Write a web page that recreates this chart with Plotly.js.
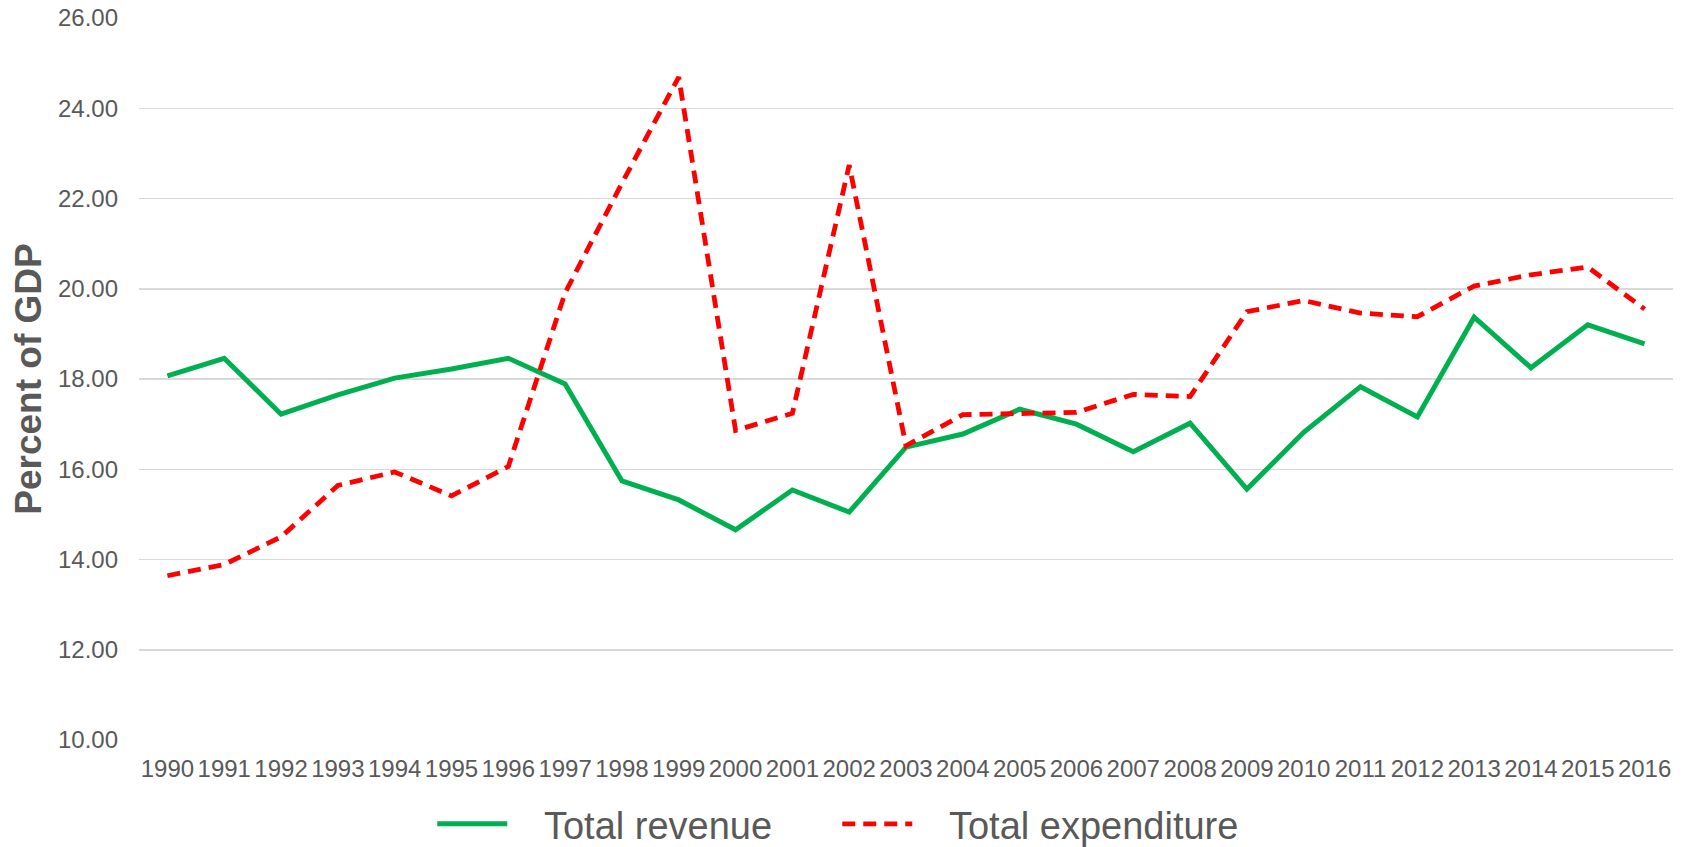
<!DOCTYPE html>
<html>
<head>
<meta charset="utf-8">
<script src="https://cdn.plot.ly/plotly-3.0.1.min.js"></script>
<style>
  html, body { margin: 0; padding: 0; background: #ffffff; }
  #chart { width: 1686px; height: 847px; }
</style>
</head>
<body>
<div id="chart"></div>
<script>
const years = ["1990","1991","1992","1993","1994","1995","1996","1997","1998","1999",
               "2000","2001","2002","2003","2004","2005","2006","2007","2008","2009",
               "2010","2011","2012","2013","2014","2015","2016"];

const totalRevenue = [18.07, 18.46, 17.22, 17.65, 18.02, 18.22, 18.46, 17.89, 15.74, 15.32,
                      14.66, 15.54, 15.05, 16.49, 16.78, 17.33, 17.00, 16.39, 17.02, 15.56,
                      16.82, 17.83, 17.16, 19.37, 18.25, 19.20, 18.78];

const totalExpenditure = [13.64, 13.89, 14.50, 15.64, 15.94, 15.41, 16.06, 19.91, 22.34, 24.69,
                          16.86, 17.24, 22.74, 16.52, 17.21, 17.24, 17.26, 17.66, 17.61, 19.49,
                          19.74, 19.46, 19.38, 20.06, 20.31, 20.48, 19.55];

const seriesNames = ["Total revenue", "Total expenditure"];

const yTicks = [10, 12, 14, 16, 18, 20, 22, 24, 26];
const yTickLabels = ["10.00","12.00","14.00","16.00","18.00","20.00","22.00","24.00","26.00"];

const FONT = '"Liberation Sans", Arial, sans-serif';
const GREY = '#595959';
const PAD = '\u00A0\u00A0\u00A0';

const traces = [
  {
    x: years, y: totalRevenue, type: 'scatter', mode: 'lines',
    name: PAD + seriesNames[0],
    line: { color: '#00B050', width: 5 }
  },
  {
    x: years, y: totalExpenditure, type: 'scatter', mode: 'lines',
    name: PAD + seriesNames[1],
    line: { color: '#FF0000', width: 4.8, dash: '13px,8px' }
  }
];

const layout = {
  width: 1686, height: 847,
  paper_bgcolor: '#ffffff', plot_bgcolor: '#ffffff',
  margin: { l: 138.5, r: 13, t: 18, b: 106.7, pad: 0 },
  font: { family: FONT, color: GREY },
  showlegend: true,
  legend: {
    orientation: 'h', x: 0.4966, xanchor: 'center', xref: 'container',
    y: 0.027, yanchor: 'middle', yref: 'container',
    font: { size: 38, color: GREY, family: FONT },
    itemwidth: 70,
    entrywidth: 320, entrywidthmode: 'pixels',
    bgcolor: 'rgba(0,0,0,0)'
  },
  xaxis: {
    type: 'category',
    range: [-0.5, 26.5],
    showgrid: false, zeroline: false, showline: false,
    ticks: '',
    tickfont: { size: 24, color: GREY, family: FONT },
    ticklabelstandoff: 12,
    fixedrange: true
  },
  yaxis: {
    range: [10, 26],
    tickvals: yTicks, ticktext: yTickLabels,
    showgrid: true, gridcolor: '#D9D9D9', gridwidth: 1.5,
    zeroline: false, showline: false, ticks: '',
    tickfont: { size: 24, color: GREY, family: FONT },
    ticklabelstandoff: 20,
    title: { text: 'Percent of GDP', font: { size: 37, color: GREY, family: FONT, weight: 'bold' }, standoff: 4 },
    automargin: false,
    fixedrange: true
  }
};

Plotly.newPlot('chart', traces, layout, { displayModeBar: false, staticPlot: true });
</script>
</body>
</html>
